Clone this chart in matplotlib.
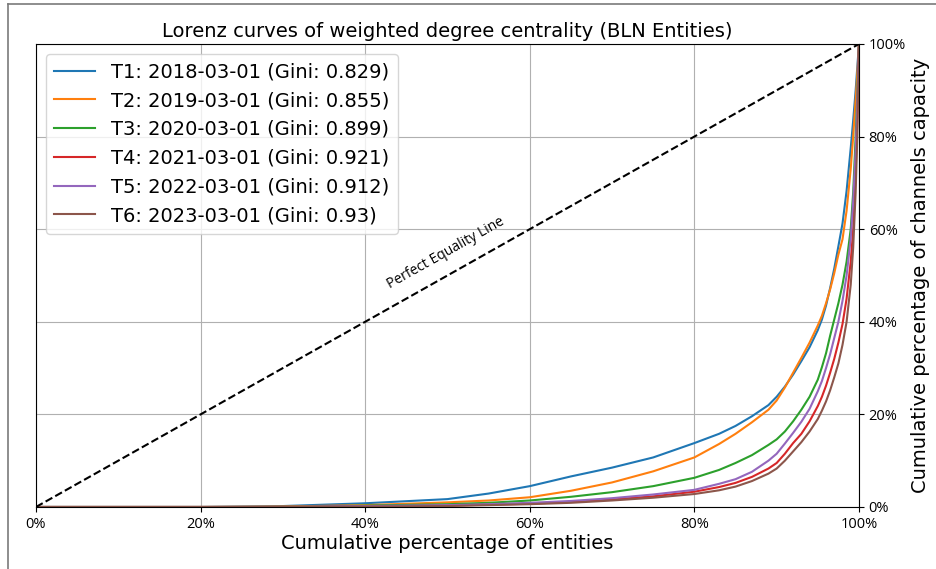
import matplotlib
matplotlib.use("Agg")
import matplotlib.pyplot as plt
from matplotlib.ticker import PercentFormatter
from matplotlib.lines import Line2D

x_share = [0.0, 0.2, 0.3, 0.4, 0.5, 0.55, 0.6, 0.65, 0.7, 0.75, 0.8, 0.83, 0.85, 0.87,
           0.89, 0.9, 0.91, 0.92, 0.93, 0.94, 0.95, 0.955, 0.96, 0.965, 0.97, 0.975,
           0.98, 0.985, 0.99, 0.993, 0.996, 0.998, 1.0]

t1 = [0.0, 0.0, 0.002, 0.008, 0.017, 0.029, 0.045, 0.066, 0.085, 0.107, 0.138, 0.158, 0.175, 0.196,
      0.22, 0.238, 0.26, 0.286, 0.315, 0.345, 0.382, 0.405, 0.435, 0.473, 0.515, 0.563,
      0.612, 0.683, 0.775, 0.835, 0.9, 0.95, 1.0]
t2 = [0.0, 0.0, 0.001, 0.004, 0.01, 0.014, 0.021, 0.035, 0.053, 0.077, 0.107, 0.136, 0.158, 0.183,
      0.21, 0.23, 0.258, 0.29, 0.322, 0.355, 0.392, 0.413, 0.44, 0.47, 0.505, 0.545,
      0.578, 0.64, 0.73, 0.8, 0.88, 0.935, 1.0]
t3 = [0.0, 0.0, 0.0, 0.003, 0.006, 0.009, 0.014, 0.022, 0.032, 0.045, 0.063, 0.08, 0.095, 0.112,
      0.134, 0.146, 0.163, 0.185, 0.21, 0.238, 0.275, 0.302, 0.332, 0.37, 0.405, 0.44,
      0.48, 0.53, 0.6, 0.68, 0.8, 0.89, 1.0]
t4 = [0.0, 0.0, 0.0, 0.001, 0.003, 0.005, 0.007, 0.011, 0.016, 0.023, 0.033, 0.043, 0.052, 0.065,
      0.083, 0.095, 0.115, 0.138, 0.158, 0.185, 0.218, 0.238, 0.262, 0.29, 0.32, 0.355,
      0.395, 0.45, 0.53, 0.6, 0.72, 0.84, 1.0]
t5 = [0.0, 0.0, 0.0, 0.002, 0.004, 0.006, 0.009, 0.013, 0.019, 0.027, 0.037, 0.05, 0.06, 0.076,
      0.1, 0.115, 0.137, 0.16, 0.184, 0.212, 0.25, 0.272, 0.3, 0.33, 0.365, 0.4,
      0.445, 0.5, 0.58, 0.66, 0.77, 0.87, 1.0]
t6 = [0.0, 0.0, 0.0, 0.001, 0.002, 0.004, 0.006, 0.009, 0.014, 0.02, 0.028, 0.036, 0.044, 0.056,
      0.072, 0.083, 0.1, 0.12, 0.14, 0.163, 0.19, 0.208, 0.228, 0.252, 0.28, 0.31,
      0.35, 0.4, 0.48, 0.56, 0.68, 0.8, 1.0]

labels = ["T1: 2018-03-01 (Gini: 0.829)", "T2: 2019-03-01 (Gini: 0.855)",
          "T3: 2020-03-01 (Gini: 0.899)", "T4: 2021-03-01 (Gini: 0.921)",
          "T5: 2022-03-01 (Gini: 0.912)", "T6: 2023-03-01 (Gini: 0.93)"]
series = [t1, t2, t3, t4, t5, t6]
colors = ["#1f77b4", "#ff7f0e", "#2ca02c", "#d62728", "#9467bd", "#8c564b"]

equality = [0.0, 1.0]

fig = plt.figure(figsize=(9.37, 5.69), dpi=100)
ax = fig.add_axes([0.0384, 0.109, 0.8783, 0.8137])

for ys, lab, c in zip(series, labels, colors):
    ax.plot(x_share, ys, color=c, lw=1.5, label=lab)

ax.plot(equality, equality, color="black", ls="--", lw=1.5)
ax.text(0.498, 0.549, "Perfect Equality Line", rotation=29.4, ha="center", va="center",
        fontsize=10, family="Open Sans", rotation_mode="anchor")

ax.set_xlim(0, 1)
ax.set_ylim(0, 1)
ax.set_xticks([0, 0.2, 0.4, 0.6, 0.8, 1.0])
ax.set_yticks([0, 0.2, 0.4, 0.6, 0.8, 1.0])
ax.xaxis.set_major_formatter(PercentFormatter(1.0, decimals=0))
ax.yaxis.set_major_formatter(PercentFormatter(1.0, decimals=0))
ax.yaxis.tick_right()
ax.yaxis.set_label_position("right")
for lbl in ax.get_xticklabels() + ax.get_yticklabels():
    lbl.set_family("Open Sans")
    lbl.set_fontsize(10.5)
ax.grid(True, color="#b0b0b0", lw=0.8)

ax.set_xlabel("Cumulative percentage of entities", fontsize=14, labelpad=2)
ax.set_ylabel("Cumulative percentage of channels capacity", fontsize=14, labelpad=4)
ax.set_title("Lorenz curves of weighted degree centrality (BLN Entities)", fontsize=14, pad=5)

ax.legend(loc="upper left", fontsize=14, handlelength=2.1, borderpad=0.45,
          labelspacing=0.5, framealpha=0.8)

fig.add_artist(Line2D([0.0085, 0.0085], [0, 0.993], transform=fig.transFigure,
                      color="#7a7a7a", lw=1.2))
fig.add_artist(Line2D([0.0085, 1.0], [0.993, 0.993], transform=fig.transFigure,
                      color="#7a7a7a", lw=1.2))

fig.savefig("out.png", dpi=100)
